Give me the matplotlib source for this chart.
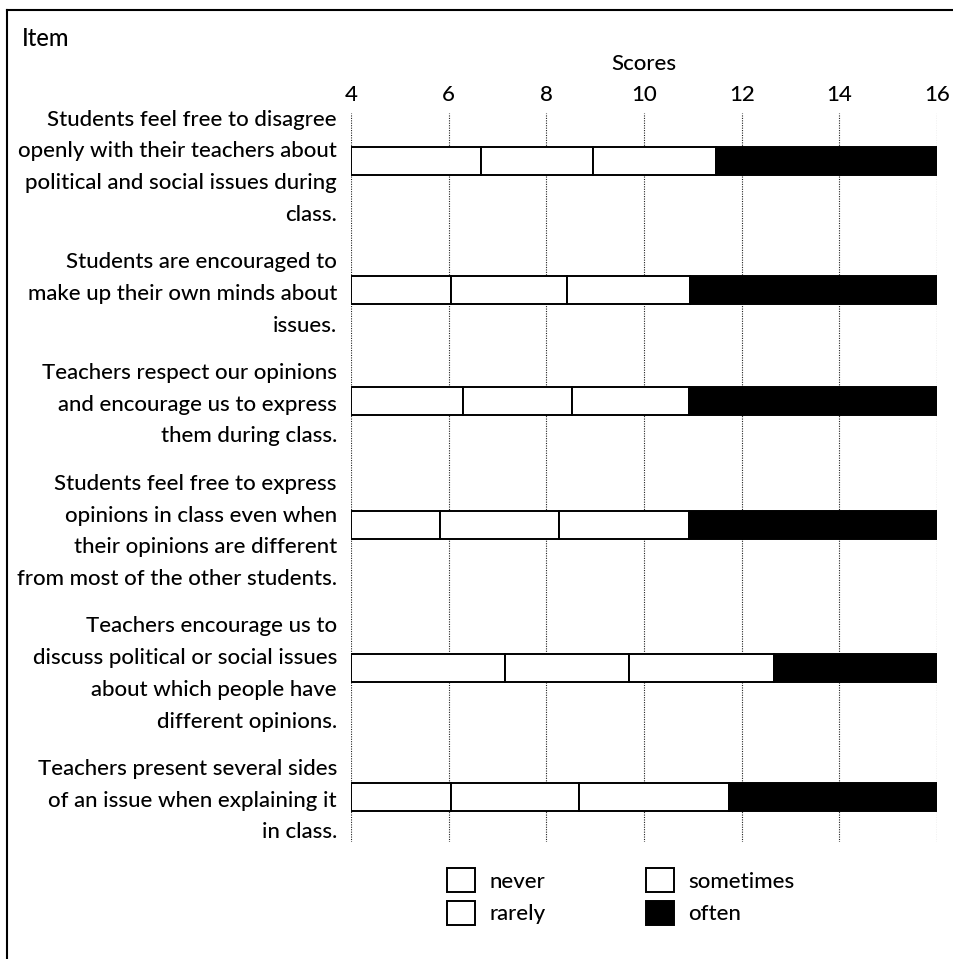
import numpy as np
import matplotlib.pyplot as plt
import matplotlib.transforms as mtransforms
from matplotlib.patches import Patch
from matplotlib.lines import Line2D

plt.rcParams['font.family'] = ['Lato', 'DejaVu Sans']
plt.rcParams['font.weight'] = 'medium'

items = [
    "Students feel free to disagree\nopenly with their teachers about\npolitical and social issues during\nclass.",
    "Students are encouraged to\nmake up their own minds about\nissues.",
    "Teachers respect our opinions\nand encourage us to express\nthem during class.",
    "Students feel free to express\nopinions in class even when\ntheir opinions are different\nfrom most of the other students.",
    "Teachers encourage us to\ndiscuss political or social issues\nabout which people have\ndifferent opinions.",
    "Teachers present several sides\nof an issue when explaining it\nin class.",
]
categories = ['never', 'rarely', 'sometimes', 'often']
colors = ['white', 'white', 'white', 'black']

# score where each category ends (bars start at score_min)
score_min, score_max = 4, 16
never_to = [6.66, 6.04, 6.30, 5.83, 7.15, 6.05]
rarely_to = [8.96, 8.42, 8.52, 8.26, 9.69, 8.66]
sometimes_to = [11.47, 10.95, 10.92, 10.92, 12.66, 11.75]
often_to = [16, 16, 16, 16, 16, 16]
score_ticks = [4, 6, 8, 10, 12, 14, 16]

W, H = 954, 959
fs = 16
fig = plt.figure(figsize=(W / 100, H / 100), dpi=100)
# axes in pixel-like y units (top = 113 px, bottom = 842 px)
ax = fig.add_axes([351 / W, 1 - 842 / H, (937 - 351) / W, (842 - 113) / H])
ax.set_xlim(score_min, score_max)
ax.set_ylim(842, 113)

# item labels, one text per line, bars next to each block
blend = mtransforms.blended_transform_factory(fig.transFigure, ax.transData)
line_gap, block_gap, y = 31.7, 15.8, 118
bar_y = []
for label in items:
    lines = label.split('\n')
    for i, line in enumerate(lines):
        ax.text(337 / W, y + i * line_gap + 7.5, line, transform=blend,
                ha='right', va='baseline', fontsize=fs)
    bar_y.append(y + (len(lines) - 1) * line_gap / 2 - (len(lines) - 2) * 2.5)
    y += len(lines) * line_gap + block_gap

left = np.full(len(items), score_min, dtype=float)
for cat, ends, fc in zip(categories, [never_to, rarely_to, sometimes_to, often_to], colors):
    ends = np.array(ends, dtype=float)
    ax.barh(bar_y, ends - left, left=left, height=28, color=fc,
            edgecolor='black', linewidth=1.4, zorder=3, label=cat)
    left = ends

ax.set_xticks(score_ticks)
ax.set_yticks([])
ax.xaxis.tick_top()
ax.tick_params(axis='x', length=0, pad=6, labelsize=fs)
ax.grid(axis='x', color='#222222', linestyle=(0, (1, 1.2)), linewidth=0.8, zorder=0)
for s in ax.spines.values():
    s.set_visible(False)

fig.text(644 / W, 1 - 69.5 / H, 'Scores', ha='center', va='baseline', fontsize=fs)
fig.text(22 / W, 1 - 46 / H, 'Item', ha='left', va='baseline', fontsize=fs + 1)

# legend in two columns
handles = [Patch(facecolor=c, edgecolor='black', linewidth=1.4) for c in colors]
leg_kw = dict(loc='upper left', bbox_transform=fig.transFigure, frameon=False,
              borderpad=0, borderaxespad=0, handlelength=1.25, handleheight=1.3,
              handletextpad=0.65, labelspacing=0.38, fontsize=fs)
leg1 = ax.legend(handles[:2], categories[:2], bbox_to_anchor=(447 / W, 1 - 868 / H), **leg_kw)
ax.add_artist(leg1)
ax.legend(handles[2:], categories[2:], bbox_to_anchor=(646 / W, 1 - 868 / H), **leg_kw)

# outer frame (top and left edges)
fig.add_artist(Line2D([7 / W, 1], [1 - 9.5 / H] * 2, transform=fig.transFigure, color='black', lw=1.5))
fig.add_artist(Line2D([7 / W] * 2, [0, 1 - 9.5 / H], transform=fig.transFigure, color='black', lw=1.5))

fig.savefig('out.png', dpi=100)
